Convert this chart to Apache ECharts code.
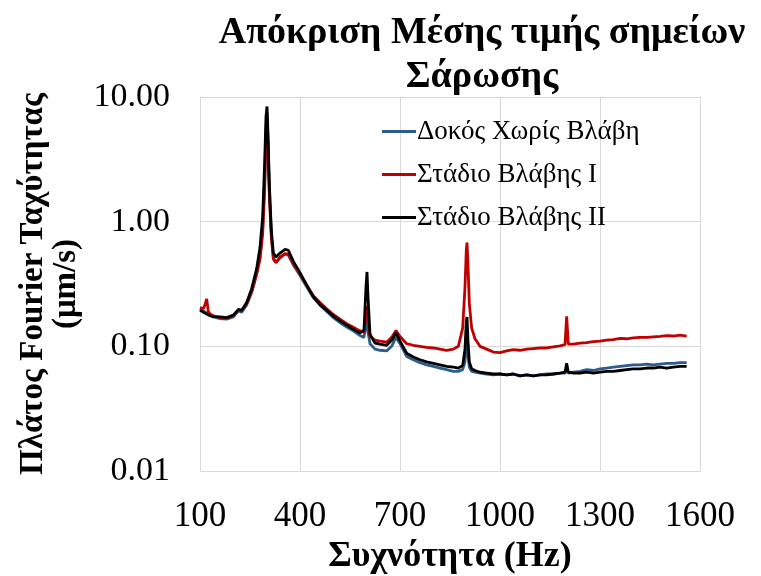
<!DOCTYPE html>
<html>
<head>
<meta charset="utf-8">
<script src="https://cdn.jsdelivr.net/npm/echarts@6/dist/echarts.min.js"></script>
<style>html,body{margin:0;padding:0;background:#fff;}#c{width:761px;height:576px;}</style>
</head>
<body>
<div id="c"></div>
<script>
const freq = [100,110,115,120,125,130,140,160,180,200,215,225,240,255,270,280,288,294,298,301,304,308,314,320,328,340,355,365,380,400,420,440,460,480,500,520,540,560,580,592,598,601,604,610,625,640,660,675,688,700,720,740,760,780,800,820,840,860,875,888,895,899,901,904,908,915,925,940,960,980,1000,1020,1040,1060,1080,1100,1120,1140,1160,1180,1195,1200,1205,1220,1240,1260,1280,1300,1320,1340,1360,1380,1400,1420,1440,1460,1480,1500,1520,1540,1560];
const noDamage = [0.200,0.192,0.188,0.185,0.182,0.178,0.172,0.167,0.165,0.172,0.192,0.188,0.215,0.270,0.380,0.520,0.900,2.200,5.500,7.600,4.500,1.800,0.800,0.520,0.470,0.510,0.550,0.540,0.450,0.370,0.300,0.245,0.215,0.190,0.170,0.155,0.143,0.133,0.122,0.118,0.150,0.170,0.130,0.105,0.095,0.093,0.092,0.100,0.118,0.105,0.083,0.078,0.074,0.071,0.069,0.067,0.065,0.063,0.063,0.065,0.075,0.100,0.110,0.085,0.068,0.063,0.062,0.061,0.060,0.059,0.060,0.059,0.060,0.058,0.059,0.058,0.059,0.060,0.060,0.061,0.061,0.064,0.061,0.062,0.063,0.065,0.064,0.066,0.067,0.068,0.069,0.070,0.071,0.071,0.072,0.071,0.072,0.073,0.073,0.074,0.074];
const stage1 = [0.205,0.200,0.215,0.240,0.190,0.182,0.176,0.170,0.168,0.176,0.195,0.192,0.220,0.275,0.380,0.500,0.800,1.800,4.800,6.800,4.000,1.600,0.750,0.500,0.470,0.520,0.555,0.550,0.460,0.380,0.310,0.255,0.225,0.200,0.180,0.165,0.152,0.142,0.133,0.130,0.180,0.210,0.160,0.120,0.112,0.110,0.108,0.118,0.134,0.120,0.105,0.102,0.100,0.098,0.097,0.095,0.093,0.095,0.100,0.140,0.300,0.600,0.680,0.450,0.220,0.140,0.115,0.100,0.095,0.090,0.089,0.092,0.094,0.093,0.095,0.096,0.097,0.097,0.099,0.101,0.103,0.174,0.104,0.104,0.106,0.107,0.109,0.110,0.112,0.113,0.116,0.115,0.117,0.118,0.118,0.119,0.120,0.122,0.121,0.123,0.121];
const stage2 = [0.195,0.188,0.185,0.182,0.180,0.176,0.173,0.172,0.170,0.178,0.198,0.195,0.225,0.290,0.420,0.620,1.100,3.000,7.000,8.400,5.000,2.000,0.850,0.560,0.520,0.560,0.600,0.590,0.480,0.390,0.310,0.250,0.215,0.195,0.175,0.160,0.148,0.137,0.128,0.135,0.300,0.395,0.250,0.125,0.106,0.104,0.102,0.112,0.128,0.110,0.088,0.082,0.078,0.075,0.073,0.071,0.069,0.068,0.067,0.070,0.095,0.160,0.172,0.110,0.075,0.066,0.064,0.062,0.061,0.060,0.060,0.059,0.060,0.058,0.059,0.058,0.059,0.059,0.060,0.061,0.062,0.073,0.062,0.061,0.061,0.062,0.061,0.062,0.063,0.063,0.064,0.065,0.066,0.066,0.067,0.067,0.068,0.067,0.068,0.069,0.069];
const seriesNames = ['Δοκός Χωρίς Βλάβη','Στάδιο Βλάβης Ι','Στάδιο Βλάβης ΙΙ'];
const yTicks = ['0.01','0.10','1.00','10.00'];

const FONT = "'Liberation Serif','Times New Roman',serif";
const pair = arr => freq.map((f,i)=>[f,arr[i]]);
const colors = ['#2E5C8A','#C00000','#000000'];
const chart = echarts.init(document.getElementById('c'), null, {renderer:'canvas'});
chart.setOption({
  animation:false,
  backgroundColor:'#fff',
  title:{
    text:'Απόκριση Μέσης τιμής σημείων\nΣάρωσης',
    left:477, top:6, textAlign:'center',
    textStyle:{fontFamily:FONT,fontWeight:'bold',fontSize:38,lineHeight:44,color:'#000'}
  },
  legend:{
    orient:'vertical', left:377, top:113, itemWidth:34, itemHeight:3, itemGap:16,
    icon:'rect',
    textStyle:{fontFamily:FONT,fontSize:27,color:'#000',padding:[0,0,0,-4]},
    data:seriesNames
  },
  grid:{left:200,right:61,top:97,bottom:105,containLabel:false,outerBoundsMode:'none'},
  xAxis:{
    type:'value', min:100, max:1600, interval:300,
    name:'Συχνότητα (Hz)', nameLocation:'middle', nameGap:66,
    nameTextStyle:{fontFamily:FONT,fontWeight:'bold',fontSize:36,color:'#000'},
    axisLine:{show:true,lineStyle:{color:'#D9D9D9',width:1}},
    axisTick:{show:false},
    axisLabel:{fontFamily:FONT,fontSize:35,color:'#000',margin:28,formatter:v=>String(v)},
    splitLine:{show:true,lineStyle:{color:'#D9D9D9',width:1}}
  },
  yAxis:{
    type:'log', logBase:10, min:0.01, max:10,
    name:'Πλάτος Fourier Ταχύτητας\n(μm/s)', nameLocation:'middle', nameGap:115,
    nameTextStyle:{fontFamily:FONT,fontWeight:'bold',fontSize:33,lineHeight:33,color:'#000'},
    axisLine:{show:true,lineStyle:{color:'#D9D9D9',width:1}},
    axisTick:{show:false},
    axisLabel:{fontFamily:FONT,fontSize:34,color:'#000',margin:30,
      formatter:v=>{const s=v.toFixed(2);return yTicks.indexOf(s)>=0?s:'';}},
    splitLine:{show:true,lineStyle:{color:'#D9D9D9',width:1}}
  },
  series:[0,1,2].map(k=>({
    name:seriesNames[k], type:'line', showSymbol:false, symbol:'none',
    data:pair([noDamage,stage1,stage2][k]),
    lineStyle:{color:colors[k],width:2.8},
    itemStyle:{color:colors[k]},
    z:2+k
  }))
});
</script>
</body>
</html>
